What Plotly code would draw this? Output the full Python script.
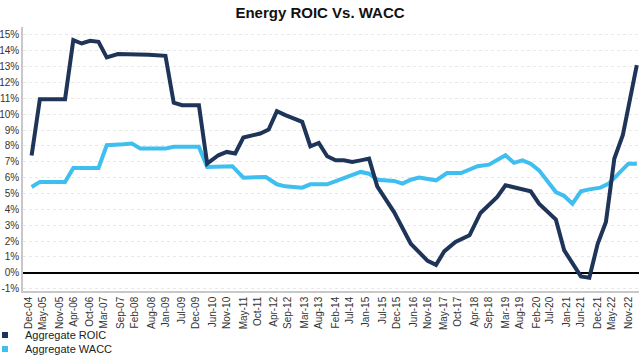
import pandas as pd
import plotly.graph_objects as go

# ---------------- data ----------------
tick_labels = ["Dec-04", "May-05", "Nov-05", "Apr-06", "Oct-06", "Mar-07", "Sep-07", "Feb-08",
               "Aug-08", "Jan-09", "Jul-09", "Dec-09", "Jun-10", "Nov-10", "May-11", "Oct-11",
               "Apr-12", "Sep-12", "Mar-13", "Aug-13", "Feb-14", "Jul-14", "Jan-15", "Jul-15",
               "Dec-15", "Jun-16", "Nov-16", "May-17", "Oct-17", "Apr-18", "Sep-18", "Mar-19",
               "Aug-19", "Feb-20", "Jul-20", "Jan-21", "Jun-21", "Dec-21", "May-22", "Nov-22"]

roic_dates = ["2005-01", "2005-04", "2006-01", "2006-04", "2006-07", "2006-10", "2007-01", "2007-04",
              "2007-08", "2008-04", "2008-07", "2009-01", "2009-04", "2009-07", "2010-01", "2010-04",
              "2010-08", "2010-11", "2011-02", "2011-05", "2011-08", "2011-11", "2012-02", "2012-05",
              "2012-08", "2013-02", "2013-05", "2013-08", "2013-11", "2014-02", "2014-05", "2014-08",
              "2014-11", "2015-02", "2015-05", "2015-11", "2016-05", "2016-08", "2016-11", "2017-02",
              "2017-05", "2017-09", "2018-02", "2018-06", "2018-12", "2019-03", "2019-06", "2019-12",
              "2020-03", "2020-07", "2020-09", "2020-12", "2021-03", "2021-06", "2021-09", "2021-12",
              "2022-03", "2022-06", "2022-09", "2023-02"]
roic_values = [7.4, 10.95, 10.95, 14.67, 14.46, 14.63, 14.57, 13.58,
               13.79, 13.79, 13.75, 13.68, 10.72, 10.57, 10.57, 6.88,
               7.41, 7.62, 7.52, 8.53, 8.67, 8.78, 9.03, 10.19,
               9.94, 9.52, 7.98, 8.19, 7.35, 7.09, 7.09, 6.99,
               7.09, 7.2, 5.45, 3.83, 1.83, 1.25, 0.75, 0.5,
               1.35, 1.94, 2.36, 3.77, 4.78, 5.52, 5.41, 5.14,
               4.36, 3.73, 3.35, 1.41, 0.57, -0.23, -0.32, 1.83,
               3.2, 7.2, 8.67, 13.09]

wacc_dates = ["2005-01", "2005-04", "2006-01", "2006-04", "2007-01", "2007-04", "2007-10", "2008-01",
              "2008-04", "2009-01", "2009-04", "2010-01", "2010-04", "2011-01", "2011-05", "2012-01",
              "2012-05", "2012-08", "2013-02", "2013-05", "2013-11", "2014-08", "2014-11", "2015-02",
              "2015-05", "2015-11", "2016-02", "2016-05", "2016-08", "2017-02", "2017-06", "2017-11",
              "2018-05", "2018-09", "2019-03", "2019-06", "2019-09", "2019-12", "2020-03", "2020-09",
              "2020-12", "2021-03", "2021-06", "2021-09", "2022-01", "2022-04", "2022-08", "2022-11",
              "2023-02"]
wacc_values = [5.41, 5.73, 5.73, 6.61, 6.61, 8.04, 8.1, 8.15,
               7.83, 7.83, 7.94, 7.94, 6.67, 6.72, 6.0, 6.04,
               5.58, 5.45, 5.37, 5.58, 5.58, 6.15, 6.36, 6.25,
               5.87, 5.79, 5.62, 5.87, 6.0, 5.83, 6.29, 6.29,
               6.72, 6.82, 7.41, 6.93, 7.09, 6.88, 6.46, 5.09,
               4.84, 4.36, 5.14, 5.26, 5.37, 5.62, 6.36, 6.88,
               6.88]

y_ticks = list(range(-1, 16))

series_names = ["Aggregate ROIC", "Aggregate WACC"]
ROIC_COLOR = "#1E3459"
WACC_COLOR = "#3FBEF0"
FONT = "Liberation Sans, Arial, sans-serif"

# ---------------- figure ----------------
tick_vals = pd.to_datetime(tick_labels, format="%b-%y")

fig = go.Figure()
fig.add_trace(go.Scatter(x=pd.to_datetime(wacc_dates), y=wacc_values, mode="lines",
                         line=dict(color=WACC_COLOR, width=4), showlegend=False,
                         name=series_names[1]))
fig.add_trace(go.Scatter(x=pd.to_datetime(roic_dates), y=roic_values, mode="lines",
                         line=dict(color=ROIC_COLOR, width=4), showlegend=False,
                         name=series_names[0]))
# legend entries (square swatches), one legend box per entry
for nm, col, lg in zip(series_names, [ROIC_COLOR, WACC_COLOR], ["legend", "legend2"]):
    fig.add_trace(go.Scatter(x=[None], y=[None], mode="markers", name=nm, legend=lg,
                             marker=dict(symbol="square", size=6, color=col)))

legend_common = dict(orientation="v", xref="container", x=0, xanchor="left",
                     yref="container", yanchor="middle",
                     font=dict(size=11, color="#222222"), itemwidth=30,
                     indentation=-15, bgcolor="rgba(0,0,0,0)")

fig.update_layout(
    width=640, height=357,
    margin=dict(l=23, r=1, t=27, b=66, autoexpand=False),
    paper_bgcolor="white", plot_bgcolor="white",
    font=dict(family=FONT, size=10, color="#333333"),
    title=dict(text="<b>Energy ROIC Vs. WACC</b>", x=0.5, xanchor="center",
               y=1 - 13 / 357, yanchor="middle", yref="container",
               font=dict(family=FONT, size=15, color="#111111")),
    legend=dict(legend_common, y=1 - 335 / 357),
    legend2=dict(legend_common, y=1 - 349 / 357),
    showlegend=True,
)
fig.update_xaxes(
    type="date",
    range=["2004-09-29", "2023-02-25"],
    tickmode="array", tickvals=tick_vals, ticktext=tick_labels,
    tickangle=-90, tickfont=dict(size=10, color="#333333"),
    showgrid=False, showline=True, linecolor="#C8C8C8", linewidth=1.5,
    ticks="", ticklen=0, zeroline=False,
)
fig.update_yaxes(
    range=[-1.15, 15.5],
    tickmode="array", tickvals=y_ticks, ticktext=[f"{v}%" for v in y_ticks],
    tickfont=dict(size=10, color="#333333"),
    showgrid=True, gridcolor="#E8E8E8", griddash="dot", gridwidth=1,
    showline=True, linecolor="#C8C8C8", linewidth=1.5,
    zeroline=True, zerolinecolor="#000000", zerolinewidth=1.5,
    ticks="", ticklen=0, ticklabelstandoff=0,
)

fig.write_html("out.html", config={"displayModeBar": False},
               post_script="document.body.style.margin='0';")
